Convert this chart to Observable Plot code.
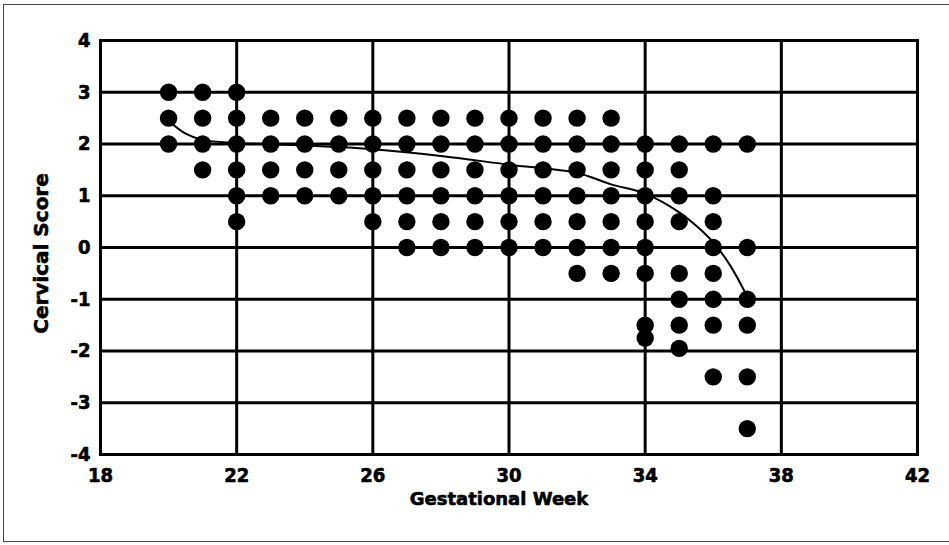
<!DOCTYPE html>
<html>
<head>
<meta charset="utf-8">
<script src="https://cdn.jsdelivr.net/npm/d3@7"></script>
<script src="https://cdn.jsdelivr.net/npm/@observablehq/plot@0.6"></script>
<style>
  html, body { margin: 0; padding: 0; background: #fff; }
  #wrap { position: relative; width: 949px; height: 545px; overflow: hidden; }
  #border { position: absolute; left: 3px; top: 4px; width: 950px; height: 538px;
            border: 1.5px solid #444; box-sizing: border-box; pointer-events: none; }
</style>
</head>
<body>
<div id="wrap"><div id="border"></div></div>
<script>
// Gestational weeks observed
const weeks = [20, 21, 22, 23, 24, 25, 26, 27, 28, 29, 30, 31, 32, 33, 34, 35, 36, 37];
// Cervical scores observed at each week (same order as weeks)
const scoresByWeek = [
  [3, 2.5, 2],
  [3, 2.5, 2, 1.5],
  [3, 2.5, 2, 1.5, 1, 0.5],
  [2.5, 2, 1.5, 1],
  [2.5, 2, 1.5, 1],
  [2.5, 2, 1.5, 1],
  [2.5, 2, 1.5, 1, 0.5],
  [2.5, 2, 1.5, 1, 0.5, 0],
  [2.5, 2, 1.5, 1, 0.5, 0],
  [2.5, 2, 1.5, 1, 0.5, 0],
  [2.5, 2, 1.5, 1, 0.5, 0],
  [2.5, 2, 1.5, 1, 0.5, 0],
  [2.5, 2, 1.5, 1, 0.5, 0, -0.5],
  [2.5, 2, 1.5, 1, 0.5, 0, -0.5],
  [2, 1.5, 1, 0.5, 0, -0.5, -1.5, -1.75],
  [2, 1.5, 1, 0.5, -0.5, -1, -1.5, -1.95],
  [2, 1, 0.5, 0, -0.5, -1, -1.5, -2.5],
  [2, 0, -1, -1.5, -2.5, -3.5]
];
// Fitted trend curve
const curveWeek  = [20, 20.5, 21, 22, 24, 26, 28, 30, 32, 33, 34, 35, 35.5, 36, 36.5, 37];
const curveScore = [2.45, 2.2, 2.08, 2.02, 1.97, 1.9, 1.77, 1.6, 1.44, 1.22, 1.04, 0.68, 0.42, 0.1, -0.35, -0.95];
// Axis ticks
const xTicks = [18, 22, 26, 30, 34, 38, 42];
const yTicks = [-4, -3, -2, -1, 0, 1, 2, 3, 4];

const points = weeks.flatMap((w, i) => scoresByWeek[i].map(s => ({week: w, score: s})));
const curve = curveWeek.map((w, i) => ({week: w, score: curveScore[i]}));

const heavy = {fontWeight: "bold", fill: "#000", stroke: "#000", strokeWidth: 0.6};
const tickFont = {fontFamily: "'DejaVu Sans Condensed', 'DejaVu Sans', sans-serif", fontSize: 20, ...heavy};

const chart = Plot.plot({
  width: 949,
  height: 545,
  marginLeft: 100,
  marginRight: 32,
  marginTop: 40,
  marginBottom: 91,
  style: {fontFamily: "'DejaVu Sans', sans-serif", background: "transparent", color: "#000"},
  x: {domain: [18, 42], axis: null},
  y: {domain: [-4, 4], axis: null},
  marks: [
    Plot.gridX(xTicks, {stroke: "#000", strokeOpacity: 1, strokeWidth: 3}),
    Plot.gridY(yTicks, {stroke: "#000", strokeOpacity: 1, strokeWidth: 3}),
    Plot.frame({stroke: "#000", strokeWidth: 3}),
    Plot.dot(points, {x: "week", y: "score", r: 8.7, fill: "#000", stroke: "none"}),
    Plot.line(curve, {x: "week", y: "score", curve: "catmull-rom", stroke: "#000", strokeWidth: 2}),
    Plot.text(xTicks, {x: d => d, text: d => String(d), frameAnchor: "bottom", lineAnchor: "middle", textAnchor: "middle", dy: 21, ...tickFont}),
    Plot.text(yTicks, {y: d => d, text: d => String(d), frameAnchor: "left", lineAnchor: "middle", textAnchor: "end", dx: -10, ...tickFont}),
    Plot.text(["Gestational Week"], {frameAnchor: "bottom", lineAnchor: "middle", textAnchor: "middle", dy: 45, dx: -10, fontSize: 18, ...heavy}),
    Plot.text(["Cervical Score"], {frameAnchor: "left", lineAnchor: "middle", textAnchor: "middle", dx: -59, dy: 6, rotate: -90, fontSize: 20, ...heavy})
  ]
});
document.getElementById("wrap").prepend(chart);
</script>
</body>
</html>
